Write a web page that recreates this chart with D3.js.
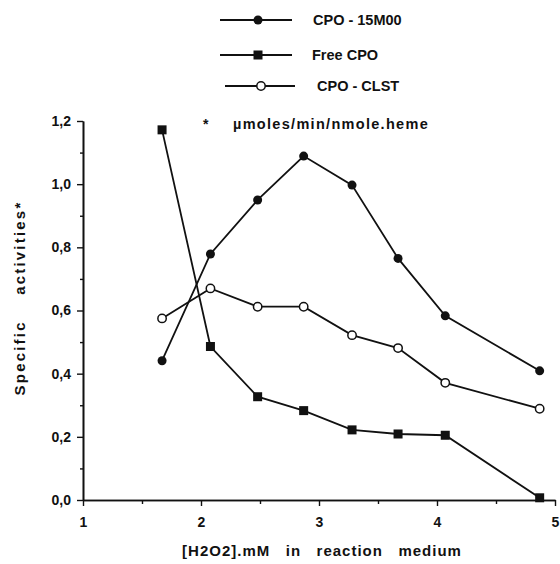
<!DOCTYPE html>
<html>
<head>
<meta charset="utf-8">
<script src="https://cdn.jsdelivr.net/npm/d3@7"></script>
<style>
  html, body { margin: 0; padding: 0; background: #fff; }
  svg { display: block; }
  text { font-family: "Liberation Sans", Arial, sans-serif; font-weight: bold; fill: #111; }
</style>
</head>
<body>
<svg id="chart" width="560" height="564"></svg>
<script>
// ---- data ----
const h2o2 = [1.67, 2.08, 2.48, 2.87, 3.28, 3.67, 4.07, 4.87];
const cpo15M00 = [0.441, 0.779, 0.950, 1.089, 0.997, 0.765, 0.583, 0.409];
const freeCPO  = [1.172, 0.486, 0.327, 0.283, 0.222, 0.209, 0.205, 0.007];
const cpoCLST  = [0.575, 0.670, 0.612, 0.612, 0.522, 0.481, 0.371, 0.289];
const seriesNames = ["CPO - 15M00", "Free CPO", "CPO - CLST"];
const xTicks = [1, 2, 3, 4, 5];
const yTicks = [0, 0.2, 0.4, 0.6, 0.8, 1.0, 1.2];

const svg = d3.select("#chart");
const x = d3.scaleLinear().domain([1, 5]).range([83, 555]);
const y = d3.scaleLinear().domain([0, 1.2]).range([500, 121]);

const fmt = v => d3.format(".1f")(v).replace(".", ",");

// axes
const yAxis = d3.axisLeft(y).tickValues(yTicks).tickFormat(fmt).tickSize(6).tickSizeOuter(0).tickPadding(6);
const yMinor = d3.axisLeft(y).tickValues(d3.range(0.1, 1.2, 0.2)).tickFormat("").tickSize(3).tickSizeOuter(0);
const xAxis = d3.axisBottom(x).tickValues(xTicks).tickFormat(d3.format("d")).tickSize(6).tickSizeOuter(0).tickPadding(11);
const xMinor = d3.axisBottom(x).tickValues([1.5, 2.5, 3.5, 4.5]).tickFormat("").tickSize(4).tickSizeOuter(0);

function styleAxis(g) {
  g.select(".domain").attr("stroke", "#111").attr("stroke-width", 1.6);
  g.selectAll(".tick line").attr("stroke", "#111").attr("stroke-width", 1.4);
  g.selectAll(".tick text").style("font-family", '"Liberation Sans", Arial, sans-serif')
    .style("font-weight", "bold").style("font-size", "14px").attr("fill", "#111");
}

svg.append("g").attr("transform", `translate(${x(1)},0)`).call(yMinor).call(styleAxis);
svg.append("g").attr("transform", `translate(${x(1)},0)`).call(yAxis).call(styleAxis);
svg.append("g").attr("transform", `translate(0,${y(0)})`).call(xMinor).call(styleAxis);
svg.append("g").attr("transform", `translate(0,${y(0)})`).call(xAxis).call(styleAxis);

// axis titles
svg.append("text")
  .attr("x", 322).attr("y", 556)
  .attr("text-anchor", "middle")
  .style("font-size", "15px")
  .style("white-space", "pre")
  .style("letter-spacing", "1px")
  .text("[H2O2].mM   in   reaction   medium");

svg.append("text")
  .attr("transform", "translate(25,298) rotate(-90)")
  .attr("text-anchor", "middle")
  .style("font-size", "15px")
  .style("white-space", "pre")
  .style("letter-spacing", "2.2px")
  .text("Specific    activities*");

// unit annotation
svg.append("text").attr("x", 203).attr("y", 129).style("font-size", "14px").text("*");
svg.append("text").attr("x", 233).attr("y", 129).style("font-size", "14.5px")
  .style("letter-spacing", "1.3px").text("\u00b5moles/min/nmole.heme");

// lines
const data = [cpo15M00, freeCPO, cpoCLST];
const line = d3.line().x((d, i) => x(h2o2[i])).y(d => y(d));
data.forEach(s => {
  svg.append("path").datum(s).attr("d", line)
    .attr("fill", "none").attr("stroke", "#111").attr("stroke-width", 1.8);
});

function marker(g, type, cx, cy) {
  if (type === 0) {
    g.append("circle").attr("cx", cx).attr("cy", cy).attr("r", 4.5).attr("fill", "#111");
  } else if (type === 1) {
    g.append("rect").attr("x", cx - 4.5).attr("y", cy - 4.5).attr("width", 9).attr("height", 9).attr("fill", "#111");
  } else {
    g.append("circle").attr("cx", cx).attr("cy", cy).attr("r", 4.2)
      .attr("fill", "#fff").attr("stroke", "#111").attr("stroke-width", 1.5);
  }
}

const mk = svg.append("g");
data.forEach((s, k) => s.forEach((v, i) => marker(mk, k, x(h2o2[i]), y(v))));

// legend
const legY = [20, 55, 86];
const legX1 = [220, 220, 225], legX2 = [292, 292, 295], legM = [258, 258, 261], legT = [313, 312, 317];
seriesNames.forEach((name, k) => {
  svg.append("line").attr("x1", legX1[k]).attr("x2", legX2[k]).attr("y1", legY[k]).attr("y2", legY[k])
    .attr("stroke", "#111").attr("stroke-width", 1.8);
  marker(svg, k, legM[k], legY[k]);
  svg.append("text").attr("x", legT[k]).attr("y", legY[k] + 5).style("font-size", "14.5px").text(name);
});
</script>
</body>
</html>
